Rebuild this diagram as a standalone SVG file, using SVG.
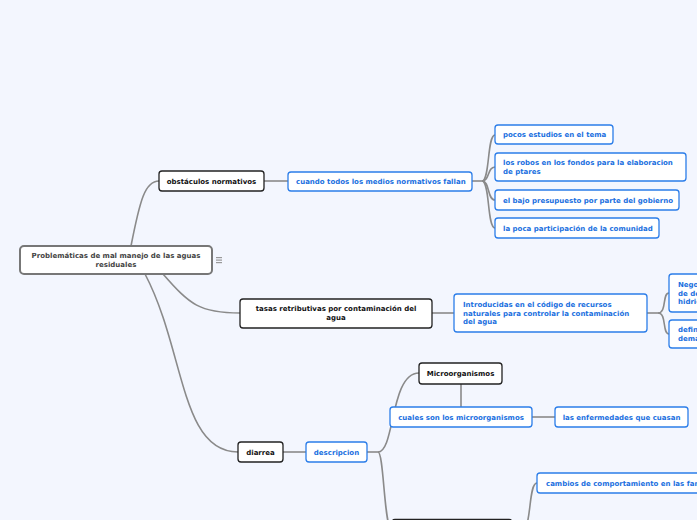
<svg xmlns="http://www.w3.org/2000/svg" width="697" height="520" viewBox="0 0 697 520">
<style>
.bg{fill:#f3f6fe}
.n rect{fill:#fff;stroke-width:1.3}
.k rect{stroke:#222}
.b rect{stroke:#2b7de9}
.r rect{stroke:#777;stroke-width:2}
text{font-family:"DejaVu Sans",Verdana,sans-serif;font-weight:bold;font-size:7px}
.k text{fill:#111}
.b text{fill:#1a6fe0}
.r text{fill:#444}
.c path{fill:none;stroke:#8a8a8a;stroke-width:1.6}
</style>
<rect class="bg" x="0" y="0" width="697" height="520"/>
<g class="c">
<path d="M131,246 C140,200 145,181 159,181" stroke-width="2"/>
<path d="M163,274 C190,305 200,313 240,313"/>
<path d="M145,274 C185,350 180,452 238,452" stroke-width="2"/>
<path d="M264,181 L288,181"/>
<path d="M472,181 L482,181"/>
<path d="M482,181 C490,181 487,135 495,135"/>
<path d="M482,181 C490,181 487,167 495,167"/>
<path d="M482,181 C490,181 487,200 495,200"/>
<path d="M482,181 C490,181 487,228 495,228"/>
<path d="M432,313 L454,313"/>
<path d="M647,313 L658,313"/>
<path d="M658,313 C667,313 662,293 669,293"/>
<path d="M658,313 C667,313 662,334 669,334"/>
<path d="M283,452 L306,452"/>
<path d="M367,452 L378,452"/>
<path d="M378,452 C395,452 390,373 419,373"/>
<path d="M378,452 C384,452 384,530 392,530"/>
<path d="M461,384 L461,407"/>
<path d="M532,417 L555,417"/>
<path d="M512,530 L522,530 C532,530 528,483 537,483"/>
</g>
<g id="root" class="n r">
<rect x="20" y="246" width="192" height="28" rx="4"/>
<text x="116" y="258" text-anchor="middle">Problemáticas de mal manejo de las aguas</text>
<text x="116" y="267" text-anchor="middle">residuales</text>
</g>
<g id="icon" fill="#999">
<rect x="216" y="257" width="6" height="1.2"/>
<rect x="216" y="259.5" width="6" height="1.2"/>
<rect x="216" y="262" width="6" height="1.2"/>
</g>
<g id="obst" class="n k">
<rect x="159" y="171" width="105" height="20" rx="3"/>
<text x="211.5" y="184" text-anchor="middle">obstáculos normativos</text>
</g>
<g id="cuando" class="n b">
<rect x="288" y="172" width="184" height="19" rx="3"/>
<text x="296" y="184">cuando todos los medios normativos fallan</text>
</g>
<g id="pocos" class="n b">
<rect x="495" y="125" width="118" height="19" rx="3"/>
<text x="503" y="137">pocos estudios en el tema</text>
</g>
<g id="robos" class="n b">
<rect x="495" y="153" width="191" height="28" rx="3"/>
<text x="503" y="165">los robos en los fondos para la elaboracion</text>
<text x="503" y="174">de ptares</text>
</g>
<g id="bajo" class="n b">
<rect x="495" y="190" width="184" height="20" rx="3"/>
<text x="503" y="203">el bajo presupuesto por parte del gobierno</text>
</g>
<g id="poca" class="n b">
<rect x="495" y="218" width="164" height="20" rx="3"/>
<text x="503" y="231">la poca participación de la comunidad</text>
</g>
<g id="tasas" class="n k">
<rect x="240" y="299" width="192" height="29" rx="3"/>
<text x="336" y="311" text-anchor="middle">tasas retributivas por contaminación del</text>
<text x="336" y="320" text-anchor="middle">agua</text>
</g>
<g id="intro" class="n b">
<rect x="454" y="294" width="193" height="38" rx="3"/>
<text x="463" y="307">Introducidas en el código de recursos</text>
<text x="463" y="315.5">naturales para controlar la contaminación</text>
<text x="463" y="324">del agua</text>
</g>
<g id="nego" class="n b">
<rect x="669" y="274" width="80" height="38" rx="3"/>
<text x="678" y="287">Negociación</text>
<text x="678" y="295.5">de descargas</text>
<text x="678" y="304">hidricas</text>
</g>
<g id="defin" class="n b">
<rect x="669" y="320" width="80" height="28" rx="3"/>
<text x="678" y="332">definen la</text>
<text x="678" y="340.5">demanda</text>
</g>
<g id="diarrea" class="n k">
<rect x="238" y="442" width="45" height="20" rx="3"/>
<text x="260.5" y="455" text-anchor="middle">diarrea</text>
</g>
<g id="descripcion" class="n b">
<rect x="306" y="442" width="61" height="20" rx="3"/>
<text x="336.5" y="455" text-anchor="middle">descripcion</text>
</g>
<g id="micro" class="n k">
<rect x="419" y="363" width="83" height="21" rx="3"/>
<text x="460.5" y="376" text-anchor="middle">Microorganismos</text>
</g>
<g id="cuales" class="n b">
<rect x="390" y="407" width="142" height="20" rx="3"/>
<text x="461" y="420" text-anchor="middle">cuales son los microorganismos</text>
</g>
<g id="enf" class="n b">
<rect x="555" y="407" width="133" height="20" rx="3"/>
<text x="621.5" y="420" text-anchor="middle">las enfermedades que cuasan</text>
</g>
<g id="cambios" class="n b">
<rect x="537" y="473" width="200" height="20" rx="3"/>
<text x="546" y="486">cambios de comportamiento en las familias</text>
</g>
<g id="bottom" class="n k">
<rect x="392" y="519.5" width="120" height="22" rx="3"/>
</g>
</svg>
